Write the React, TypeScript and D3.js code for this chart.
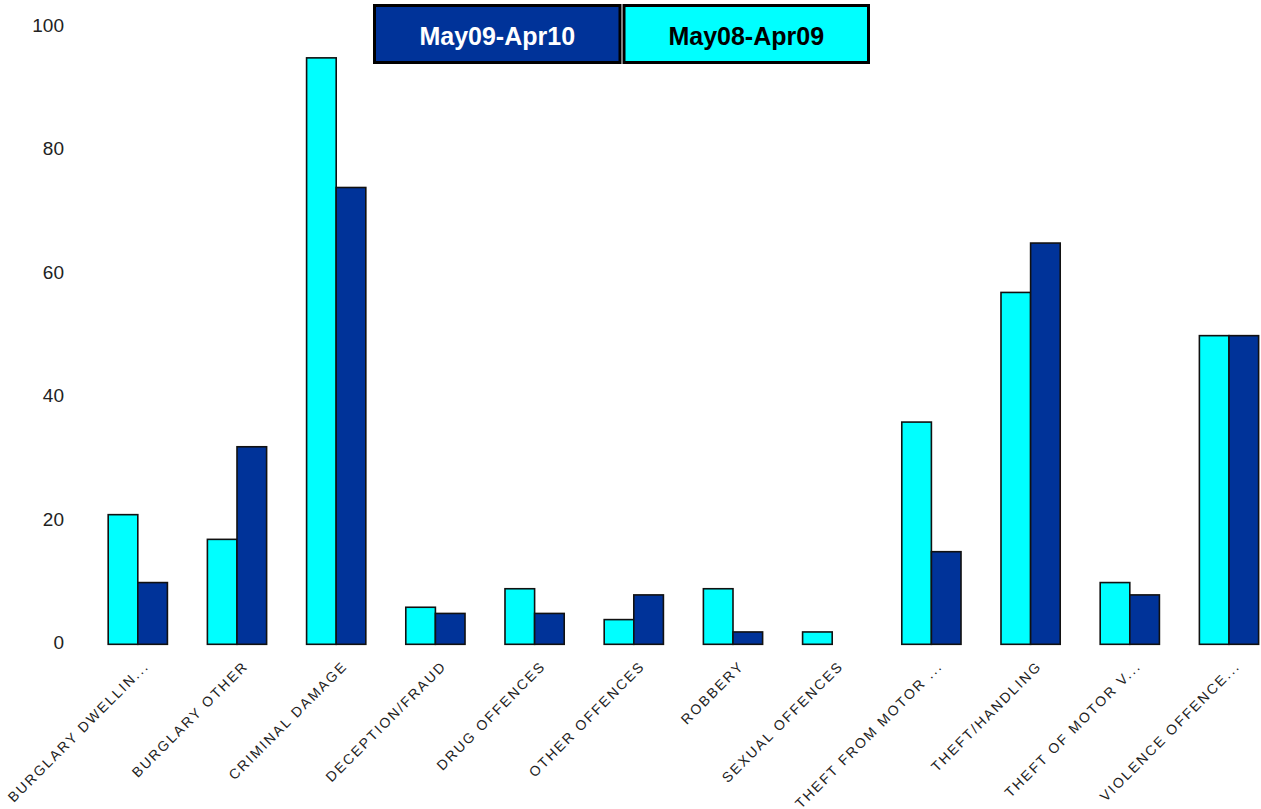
import React from "react";
import * as d3 from "d3";

const categories = [
  "BURGLARY DWELLIN...",
  "BURGLARY OTHER",
  "CRIMINAL DAMAGE",
  "DECEPTION/FRAUD",
  "DRUG OFFENCES",
  "OTHER OFFENCES",
  "ROBBERY",
  "SEXUAL OFFENCES",
  "THEFT FROM MOTOR ...",
  "THEFT/HANDLING",
  "THEFT OF MOTOR V...",
  "VIOLENCE OFFENCE...",
];
const seriesPrev = [21, 17, 95, 6, 9, 4, 9, 2, 36, 57, 10, 50]; // May08-Apr09
const seriesCurr = [10, 32, 74, 5, 5, 8, 2, 0, 15, 65, 8, 50]; // May09-Apr10
const yTicks = [0, 20, 40, 60, 80, 100];
const legendLabels = ["May09-Apr10", "May08-Apr09"];

const W = 1261;
const H = 809;
const CYAN = "#00FFFF";
const NAVY = "#003399";

export default function App() {
  const x = d3
    .scaleBand<string>()
    .domain(categories)
    .range([88.2, 88.2 + 12 * 99.2])
    .paddingInner(0.403)
    .paddingOuter(0.2015);
  const inner = d3
    .scaleBand<string>()
    .domain(["prev", "curr"])
    .range([0, x.bandwidth()]);
  const y = d3.scaleLinear().domain([0, 100]).range([644.3, 27]);

  const font = "'Liberation Sans', Arial, sans-serif";

  return (
    <svg
      width={W}
      height={H}
      style={{ position: "absolute", left: 0, top: 0, background: "#fff" }}
    >
      {/* y tick labels */}
      {yTicks.map((t) => (
        <text
          key={t}
          x={64}
          y={y(t)}
          textAnchor="end"
          dominantBaseline="middle"
          fontFamily={font}
          fontSize={19}
          fill="#222"
        >
          {t}
        </text>
      ))}

      {/* bars */}
      {categories.map((c, i) => {
        const x0 = x(c)!;
        const bars = [
          { key: "prev", v: seriesPrev[i], fill: CYAN },
          { key: "curr", v: seriesCurr[i], fill: NAVY },
        ];
        return (
          <g key={c}>
            {bars
              .filter((b) => b.v > 0)
              .map((b) => (
                <rect
                  key={b.key}
                  x={x0 + inner(b.key)!}
                  y={y(b.v)}
                  width={inner.bandwidth()}
                  height={y(0) - y(b.v)}
                  fill={b.fill}
                  stroke="#111"
                  strokeWidth={1.6}
                />
              ))}
          </g>
        );
      })}

      {/* category labels */}
      {categories.map((c) => {
        const cx = x(c)! + x.bandwidth() / 2 + 12;
        const cy = 667;
        return (
          <text
            key={c}
            transform={`translate(${cx},${cy}) rotate(-45)`}
            textAnchor="end"
            fontFamily={font}
            fontSize={14}
            letterSpacing={2}
            fill="#222"
          >
            {c}
          </text>
        );
      })}

      {/* legend */}
      {legendLabels.map((l, i) => {
        const bx = i === 0 ? 374.5 : 624;
        const bw = i === 0 ? 245.5 : 244.5;
        return (
          <g key={l}>
            <rect
              x={bx}
              y={5.5}
              width={bw}
              height={57}
              fill={i === 0 ? NAVY : CYAN}
              stroke="#000"
              strokeWidth={3}
            />
            <text
              x={bx + bw / 2}
              y={45}
              textAnchor="middle"
              fontFamily={font}
              fontWeight="bold"
              fontSize={25}
              fill={i === 0 ? "#fff" : "#000"}
            >
              {l}
            </text>
          </g>
        );
      })}
    </svg>
  );
}
